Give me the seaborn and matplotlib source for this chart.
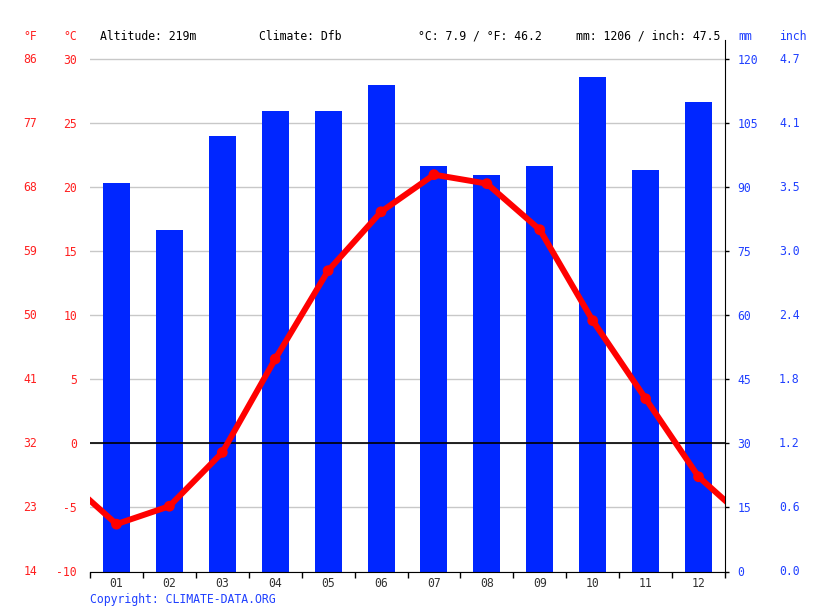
import numpy as np
import pandas as pd
import matplotlib
matplotlib.use("Agg")
import matplotlib.pyplot as plt
import matplotlib.transforms as mtransforms
import seaborn as sns

# monthly climate values
months = ["01", "02", "03", "04", "05", "06", "07", "08", "09", "10", "11", "12"]
precip_mm = [91, 80, 102, 108, 108, 114, 95, 93, 95, 116, 94, 110]
temp_c = [-6.3, -4.9, -0.7, 6.6, 13.5, 18.1, 21.0, 20.3, 16.7, 9.6, 3.5, -2.6]
c_ticks = [-10, -5, 0, 5, 10, 15, 20, 25, 30]
mm_ticks = [0, 15, 30, 45, 60, 75, 90, 105, 120]
altitude = "219m"
climate = "Dfb"

plt.rcParams["font.family"] = ["DejaVu Sans Mono", "DejaVu Sans"]
fs = 8.3
red = "#ff2020"
blue = "#2040ff"

pos = np.arange(len(months))
df = pd.DataFrame({"pos": pos, "mm": precip_mm, "temp": temp_c})

# line wraps round the year at the plot edges
edge = (temp_c[0] + temp_c[-1]) / 2
line_x = np.concatenate([[-0.5], pos, [len(months) - 0.5]])
line_y = np.concatenate([[edge], temp_c, [edge]])

t_lo, t_hi = -10, 31.52

fig = plt.figure(figsize=(8.15, 6.11), dpi=100)
ax = fig.add_axes([90 / 815, (611 - 571.5) / 611, 635 / 815, (571.5 - 40) / 611])

sns.barplot(data=df, x="pos", y="mm", color="#0026ff", saturation=1,
            width=0.51, ax=ax)
ax.set_xlim(-0.5, len(months) - 0.5)
ax.set_ylim((t_lo + 10) * 3, (t_hi + 10) * 3)
ax.set_xlabel("")
ax.set_ylabel("")
ax.set_axisbelow(True)
ax.yaxis.grid(True, color="#c8c8c8", lw=1)

ax.set_xticks(pos)
ax.set_xticklabels(months, fontsize=fs, color="#333333")
ax.set_xticks(np.arange(-0.5, len(months), 1), minor=True)
ax.tick_params(axis="x", which="major", length=0, pad=4)
ax.tick_params(axis="x", which="minor", length=4, width=1, color="black")

ax_t = ax.twinx()
ax_t.set_ylim(t_lo, t_hi)
ax_t.axhline(0, color="black", lw=1.2, zorder=1)
sns.lineplot(x=line_x, y=line_y, color="red", lw=4.3, sort=False, ax=ax_t, zorder=3)
sns.scatterplot(data=df, x="pos", y="temp", color="red", s=60, edgecolor="none",
                ax=ax_t, zorder=4)
ax_t.set_xlabel("")
ax_t.set_ylabel("")
ax_t.yaxis.set_ticks_position("left")
ax_t.set_yticks(c_ticks)
ax_t.set_yticklabels([str(v) for v in c_ticks], fontsize=fs, color=red)
ax_t.tick_params(axis="y", length=0, pad=9.4)
for s in ax_t.spines.values():
    s.set_visible(False)

# precipitation scale on the right (twinx moved it left)
ax.yaxis.set_ticks_position("right")
ax.yaxis.set_label_position("right")
ax.set_yticks(mm_ticks)
ax.set_yticklabels([str(v) for v in mm_ticks], fontsize=fs, color=blue)
ax.tick_params(axis="y", direction="out", length=3, width=1, pad=5.8)
for s in ["left", "top"]:
    ax.spines[s].set_visible(False)
ax.spines["right"].set_color("black")
ax.spines["bottom"].set_color("black")

# Fahrenheit and inch columns
tr_f = mtransforms.blended_transform_factory(fig.transFigure, ax_t.transData)
for c in c_ticks:
    ax_t.text(37 / 815, c, str(round(c * 9 / 5 + 32)), transform=tr_f,
              ha="right", va="center", fontsize=fs, color=red)
tr_i = mtransforms.blended_transform_factory(fig.transFigure, ax.transData)
for m in mm_ticks:
    ax.text(779 / 815, m, f"{m / 25.4:.1f}", transform=tr_i,
            ha="left", va="center", fontsize=fs, color=blue)

# header row
hy = 1 - 36 / 611
mean_c = np.mean(temp_c)
total = sum(precip_mm)
fig.text(23 / 815, hy, "°F", color=red, fontsize=fs, va="center")
fig.text(63 / 815, hy, "°C", color=red, fontsize=fs, va="center")
fig.text(100 / 815, hy, f"Altitude: {altitude}", fontsize=fs, va="center")
fig.text(259 / 815, hy, f"Climate: {climate}", fontsize=fs, va="center")
fig.text(418 / 815, hy, f"°C: {mean_c:.1f} / °F: {mean_c * 9 / 5 + 32:.1f}",
         fontsize=fs, va="center")
fig.text(576 / 815, hy, f"mm: {total} / inch: {total / 25.4:.1f}",
         fontsize=fs, va="center")
fig.text(738 / 815, hy, "mm", color=blue, fontsize=fs, va="center")
fig.text(779 / 815, hy, "inch", color=blue, fontsize=fs, va="center")
fig.text(90 / 815, 1 - 600 / 611, "Copyright: CLIMATE-DATA.ORG", color=blue,
         fontsize=fs, va="center")

fig.savefig("out.png", dpi=100)
